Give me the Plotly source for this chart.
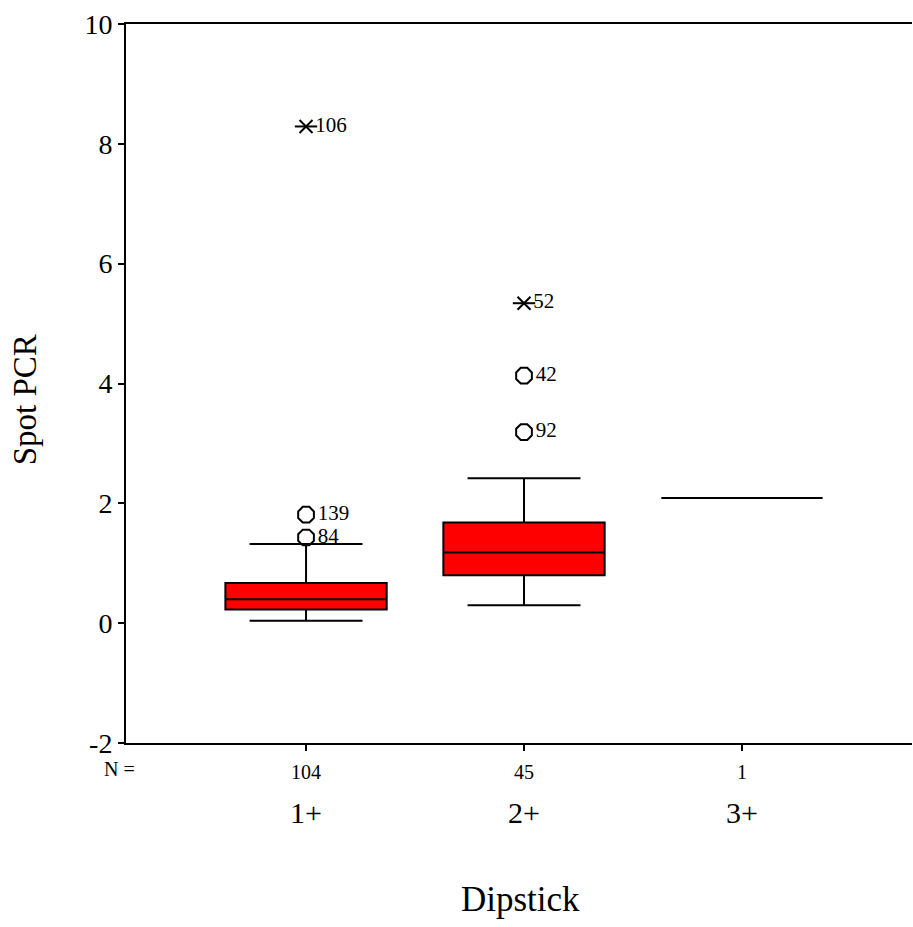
import plotly.graph_objects as go

# ---- data ----
categories = ["1+", "2+", "3+"]
cat_pos = [1, 2, 3]
n_counts = ["104", "45", "1"]
q1 = [0.23, 0.80, 2.09]
median = [0.40, 1.18, 2.09]
q3 = [0.67, 1.68, 2.09]
lower_whisker = [0.04, 0.30, 2.09]
upper_whisker = [1.32, 2.42, 2.09]

circle_x = [1, 1, 2, 2]
circle_y = [1.81, 1.43, 4.13, 3.19]
circle_labels = ["139", "84", "42", "92"]

star_x = [1, 2]
star_y = [8.29, 5.34]
star_labels = ["106", "52"]

yticks = [-2, 0, 2, 4, 6, 8, 10]
ytick_text = ["-2", "0", "2", "4", "6", "8", "10"]

FONT = "Liberation Serif, Times New Roman, serif"

fig = go.Figure()

for i in range(len(categories)):
    fig.add_trace(go.Box(
        x=[cat_pos[i]],
        q1=[q1[i]], median=[median[i]], q3=[q3[i]],
        lowerfence=[lower_whisker[i]], upperfence=[upper_whisker[i]],
        width=0.74, whiskerwidth=0.70,
        fillcolor="#ff0000", line=dict(color="black", width=2),
        boxpoints=False, showlegend=False, hoverinfo="skip",
    ))

fig.add_trace(go.Scatter(
    x=circle_x, y=circle_y, mode="markers+text",
    marker=dict(symbol="octagon-open", size=17, color="black", line=dict(width=2, color="black")),
    text=circle_labels, textposition="middle right",
    textfont=dict(family=FONT, size=21, color="black"),
    showlegend=False, cliponaxis=False,
))
fig.add_trace(go.Scatter(
    x=star_x, y=star_y, mode="markers",
    marker=dict(symbol="line-ew-open", size=16, color="black", line=dict(width=2, color="black")),
    showlegend=False,
))
fig.add_trace(go.Scatter(
    x=star_x, y=star_y, mode="markers+text",
    marker=dict(symbol="x-thin-open", size=13, color="black", line=dict(width=2, color="black")),
    text=star_labels, textposition="middle right",
    textfont=dict(family=FONT, size=21, color="black"),
    showlegend=False,
))

annotations = []
for p, c in zip(cat_pos, categories):
    annotations.append(dict(x=p, y=-0.096, xref="x", yref="paper", text=c,
                            showarrow=False, xanchor="center", yanchor="middle",
                            font=dict(family=FONT, size=30, color="black")))
annotations.append(dict(x=-0.008, y=-0.036, xref="paper", yref="paper", text="N =",
                        showarrow=False, xanchor="center", yanchor="middle",
                        font=dict(family=FONT, size=20, color="black")))
annotations.append(dict(x=0.5025, y=-0.218, xref="paper", yref="paper", text="Dipstick",
                        showarrow=False, xanchor="center", yanchor="middle",
                        font=dict(family=FONT, size=35, color="black")))
annotations.append(dict(x=-0.1285, y=0.478, xref="paper", yref="paper", text="Spot PCR",
                        showarrow=False, xanchor="center", yanchor="middle", textangle=-90,
                        font=dict(family=FONT, size=33, color="black")))

fig.update_layout(
    width=913, height=927,
    margin=dict(l=126, r=1, t=24, b=184),
    plot_bgcolor="white", paper_bgcolor="white",
    annotations=annotations,
    showlegend=False,
)
fig.update_xaxes(
    range=[0.174, 3.78], tickvals=cat_pos, ticktext=n_counts,
    tickfont=dict(family=FONT, size=20, color="black"),
    ticks="outside", ticklen=6, tickwidth=2, tickcolor="black",
    showline=True, linecolor="black", linewidth=2, mirror=True,
    showgrid=False, zeroline=False, ticklabelstandoff=4,
)
fig.update_yaxes(
    range=[-2, 10], tickvals=yticks, ticktext=ytick_text,
    tickfont=dict(family=FONT, size=28, color="black"),
    ticks="outside", ticklen=6, tickwidth=2, tickcolor="black",
    showline=True, linecolor="black", linewidth=2,
    showgrid=False, zeroline=False,
)

fig.write_html("out.html")
